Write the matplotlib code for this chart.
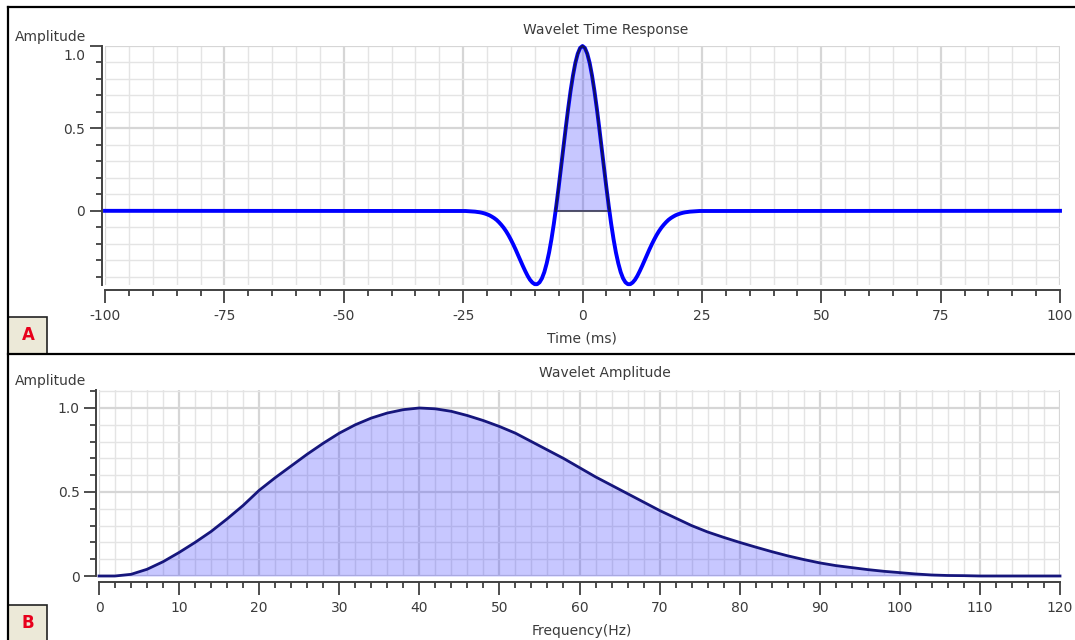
import matplotlib
matplotlib.use("Agg")
import numpy as np
import matplotlib.pyplot as plt
import matplotlib.transforms as mtransforms
from matplotlib.ticker import MultipleLocator, FixedLocator
from matplotlib.lines import Line2D
from matplotlib.patches import Rectangle

# ---- data -------------------------------------------------------------
# Wavelet time response (ms -> amplitude); 0.5 ms samples over +/-25 ms,
# flat zero out to +/-100 ms
time_ms = [-100.0] + [k / 2 for k in range(-50, 51)] + [100.0]
time_amp = [0.0,
            -0.001, -0.001, -0.002, -0.003, -0.004, -0.005, -0.007, -0.009,
            -0.012, -0.016, -0.021, -0.027, -0.035, -0.044, -0.055, -0.069,
            -0.085, -0.103, -0.124, -0.148, -0.175, -0.204, -0.235, -0.268,
            -0.301, -0.334, -0.365, -0.394, -0.418, -0.435, -0.445, -0.445,
            -0.434, -0.410, -0.372, -0.319, -0.253, -0.172, -0.078, 0.028,
            0.142, 0.262, 0.384, 0.505, 0.621, 0.727, 0.820, 0.897, 0.953,
            0.988,
            1.000,
            0.988, 0.953, 0.897, 0.820, 0.727, 0.621, 0.505, 0.384, 0.262,
            0.142, 0.028, -0.078, -0.172, -0.253, -0.319, -0.372, -0.410,
            -0.434, -0.445, -0.445, -0.435, -0.418, -0.394, -0.365, -0.334,
            -0.301, -0.268, -0.235, -0.204, -0.175, -0.148, -0.124, -0.103,
            -0.085, -0.069, -0.055, -0.044, -0.035, -0.027, -0.021, -0.016,
            -0.012, -0.009, -0.007, -0.005, -0.004, -0.003, -0.002, -0.001,
            -0.001,
            0.0]

# Wavelet amplitude spectrum (Hz -> normalised amplitude)
freq_hz = list(range(0, 122, 2))
freq_amp = [0.0, 0.0, 0.01, 0.04, 0.085, 0.14, 0.20, 0.265, 0.34, 0.42,
            0.51, 0.585, 0.655, 0.725, 0.79, 0.85, 0.90, 0.94, 0.97, 0.99,
            1.0, 0.995, 0.98, 0.955, 0.925, 0.89, 0.85, 0.80, 0.75, 0.70,
            0.645, 0.59, 0.54, 0.49, 0.44, 0.39, 0.345, 0.30, 0.262, 0.23,
            0.20, 0.172, 0.145, 0.12, 0.098, 0.078, 0.062, 0.05, 0.038, 0.028,
            0.02, 0.012, 0.006, 0.003, 0.002, 0.0, 0.0, 0.0, 0.0, 0.0,
            0.0]

time_ticks = [-100, -75, -50, -25, 0, 25, 50, 75, 100]
freq_ticks = list(range(0, 121, 10))
amp_ticks = [0, 0.5, 1.0]
amp_labels = ["0", "0.5", "1.0"]

# ---- styling ----------------------------------------------------------
W, H = 1075, 640
TXT = "#3b3b3b"
AXC = "#404040"
plt.rcParams["font.family"] = ["DejaVu Sans"]
plt.rcParams["axes.unicode_minus"] = False


def fx(px):
    return px / W


def fy(py):
    return 1 - py / H


def style_axes(ax, xmaj, xmin_step, left_out, bottom_out):
    for s in ("top", "right"):
        ax.spines[s].set_visible(False)
    ax.spines["left"].set_position(("outward", left_out))
    ax.spines["bottom"].set_position(("outward", bottom_out))
    for s in ("left", "bottom"):
        ax.spines[s].set_color(AXC)
        ax.spines[s].set_linewidth(1.4)
    ax.xaxis.set_major_locator(FixedLocator(xmaj))
    ax.xaxis.set_minor_locator(MultipleLocator(xmin_step))
    ax.yaxis.set_major_locator(FixedLocator(amp_ticks))
    ax.set_yticklabels(amp_labels)
    ax.yaxis.set_minor_locator(MultipleLocator(0.1))
    ax.tick_params(which="major", length=9, width=1.3, color=AXC,
                   labelsize=10, labelcolor=TXT)
    ax.tick_params(which="minor", length=4.5, width=1.3, color=AXC)
    ax.tick_params(axis="x", which="major", pad=5)
    ax.tick_params(axis="y", which="major", pad=3)
    ax.set_axisbelow(True)
    ax.grid(which="minor", color="#e4e4e4", linewidth=1.0)
    ax.grid(which="major", color="#d6d6d6", linewidth=1.6)
    ax.set_facecolor("white")


fig = plt.figure(figsize=(W / 100, H / 100), dpi=100)
fig.patch.set_facecolor("white")

# ---- A: time response ---------------------------------------------------
ax1 = fig.add_axes([fx(105), fy(285), fx(1060) - fx(105), fy(46) - fy(285)])
style_axes(ax1, time_ticks, 5, 2.2, 3.6)
ax1.set_xlim(-100, 100)
ax1.set_ylim(-0.45, 1.0)

# the top "1.0" label sits a little below its tick, clear of the axis title
top_tick = ax1.yaxis.get_major_ticks()[2]
top_tick.label1.set_transform(
    top_tick.label1.get_transform()
    + mtransforms.ScaledTranslation(0, -0.09, fig.dpi_scale_trans))

t = np.array(time_ms, dtype=float)
a = np.array(time_amp, dtype=float)
pos = a > 0
i0 = np.argmax(pos)
i1 = len(a) - 1 - np.argmax(pos[::-1])
# zero crossings of the main lobe from linear interpolation of the samples
t_left = np.interp(0, [a[i0 - 1], a[i0]], [t[i0 - 1], t[i0]])
t_right = np.interp(0, [a[i1 + 1], a[i1]], [t[i1 + 1], t[i1]])
lobe_t = np.concatenate([[t_left], t[i0:i1 + 1], [t_right]])
lobe_a = np.concatenate([[0.0], a[i0:i1 + 1], [0.0]])

ax1.fill_between(lobe_t, 0, lobe_a, color="#3030ff", alpha=0.27,
                 linewidth=0, zorder=2)
ax1.plot([t_left, t_right], [0, 0], color="#30304a", lw=1.1, zorder=3)
ax1.plot(t, a, color="#0000ff", lw=2.8, clip_on=False, zorder=4,
         solid_joinstyle="round")
ax1.plot(lobe_t, lobe_a, color="#12125e", lw=1.6, clip_on=False, zorder=5)

# ---- B: amplitude spectrum --------------------------------------------
ax2 = fig.add_axes([fx(99), fy(576), fx(1060) - fx(99), fy(390) - fy(576)])
style_axes(ax2, freq_ticks, 2, 2.0, 4.3)
ax2.set_xlim(0, 120)
ax2.set_ylim(0, 1.107)
ax2.fill_between(freq_hz, 0, freq_amp, color="#3030ff", alpha=0.27,
                 linewidth=0, zorder=2)
ax2.plot(freq_hz, freq_amp, color="#16167c", lw=2.0, clip_on=False,
         zorder=4)

# ---- texts ------------------------------------------------------------
fig.text(fx(606), fy(30), "Wavelet Time Response", ha="center",
         va="center", fontsize=10, color=TXT)
fig.text(fx(605), fy(373), "Wavelet Amplitude", ha="center",
         va="center", fontsize=10, color=TXT)
fig.text(fx(15), fy(37), "Amplitude", ha="left", va="center",
         fontsize=10, color=TXT)
fig.text(fx(15), fy(381), "Amplitude", ha="left", va="center",
         fontsize=10, color=TXT)
fig.text(fx(582), fy(338), "Time (ms)", ha="center", va="center",
         fontsize=10, color=TXT)
fig.text(fx(582), fy(631), "Frequency(Hz)", ha="center", va="center",
         fontsize=10, color=TXT)

# ---- panel frames and A/B tabs -------------------------------------------
for (x0, y0, x1, y1) in [(8, 7, W, 7), (8, 7, 8, H), (8, 354, W, 354)]:
    fig.add_artist(Line2D([fx(x0), fx(x1)], [fy(y0), fy(y1)],
                          color="black", lw=1.6,
                          transform=fig.transFigure))

for label, top, bot in [("A", 317, 354), ("B", 605, 641)]:
    fig.add_artist(Rectangle((fx(8), fy(bot)), fx(47) - fx(8),
                             fy(top) - fy(bot), transform=fig.transFigure,
                             facecolor="#ece9d8", edgecolor="#222222",
                             lw=1.2))
    fig.text(fx(28), fy((top + bot) / 2), label, ha="center", va="center",
             fontsize=12, fontweight="bold", color="#e8001c")

fig.savefig("out.png", dpi=100, facecolor="white")
